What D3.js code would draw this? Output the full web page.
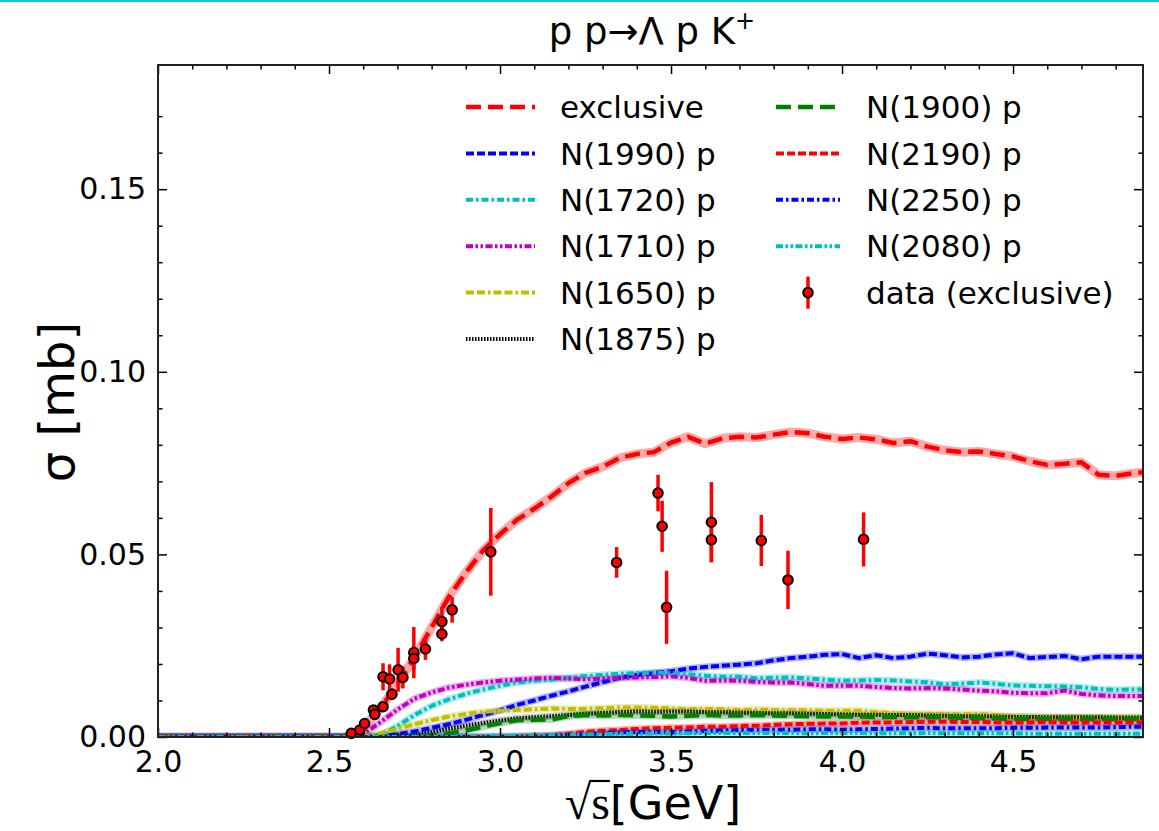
<!DOCTYPE html>
<html>
<head>
<meta charset="utf-8">
<script src="https://cdn.jsdelivr.net/npm/d3@7"></script>
<style>
  html, body { margin: 0; padding: 0; background: #fff; }
  svg { display: block; }
  text { font-family: "DejaVu Sans", sans-serif; fill: #000; }
</style>
</head>
<body>
<script>
// Energy grid (sqrt(s), GeV) shared by all model curves
const sqrtS = [2.00, 2.55, 2.60, 2.65, 2.70, 2.75, 2.80, 2.85, 2.90, 2.95,
  3.00, 3.05, 3.10, 3.15, 3.20, 3.25, 3.30, 3.35, 3.40, 3.45,
  3.50, 3.55, 3.60, 3.65, 3.70, 3.75, 3.80, 3.85, 3.90, 3.95,
  4.00, 4.05, 4.10, 4.15, 4.20, 4.25, 4.30, 4.35, 4.40, 4.45,
  4.50, 4.55, 4.60, 4.65, 4.70, 4.75, 4.80, 4.85, 4.88];

// Cross sections (mb) on the grid above
const exclusive = [0, 0, 0.0025, 0.0078, 0.0145, 0.0218, 0.0300, 0.0383, 0.0450, 0.0510,
  0.0555, 0.0595, 0.0625, 0.0658, 0.0695, 0.0723, 0.0740, 0.0764, 0.0775, 0.0780,
  0.0806, 0.0822, 0.0803, 0.0818, 0.0822, 0.0820, 0.0828, 0.0835, 0.0832, 0.0822,
  0.0816, 0.0820, 0.0815, 0.0805, 0.0810, 0.0795, 0.0785, 0.0780, 0.0782, 0.0775,
  0.0768, 0.0755, 0.0745, 0.0748, 0.0752, 0.0718, 0.0715, 0.0722, 0.0725];
const n1990 = [0, 0, 0, 0.0003, 0.0008, 0.0015, 0.0025, 0.0035, 0.0047, 0.0060,
  0.0073, 0.0088, 0.0100, 0.0113, 0.0125, 0.0138, 0.0150, 0.0162, 0.0170, 0.0175,
  0.0180, 0.0187, 0.0192, 0.0195, 0.0198, 0.0202, 0.0210, 0.0216, 0.0220, 0.0225,
  0.0227, 0.0216, 0.0224, 0.0216, 0.0220, 0.0228, 0.0224, 0.0218, 0.0220, 0.0226,
  0.0229, 0.0216, 0.0219, 0.0222, 0.0213, 0.0220, 0.0220, 0.0220, 0.0220];
const n1720 = [0, 0, 0, 0.0003, 0.0030, 0.0060, 0.0085, 0.0103, 0.0118, 0.0130,
  0.0140, 0.0149, 0.0154, 0.0157, 0.0162, 0.0167, 0.0170, 0.0173, 0.0175, 0.0176,
  0.0176, 0.0172, 0.0168, 0.0165, 0.0165, 0.0161, 0.0162, 0.0163, 0.0160, 0.0157,
  0.0154, 0.0155, 0.0156, 0.0155, 0.0152, 0.0150, 0.0144, 0.0146, 0.0149, 0.0146,
  0.0141, 0.0140, 0.0139, 0.0138, 0.0136, 0.0131, 0.0129, 0.0130, 0.0130];
const n1710 = [0, 0, 0.0008, 0.0040, 0.0075, 0.0105, 0.0122, 0.0135, 0.0143, 0.0149,
  0.0154, 0.0157, 0.0160, 0.0162, 0.0160, 0.0158, 0.0160, 0.0162, 0.0163, 0.0164,
  0.0166, 0.0162, 0.0154, 0.0155, 0.0154, 0.0151, 0.0149, 0.0149, 0.0145, 0.0140,
  0.0140, 0.0140, 0.0137, 0.0134, 0.0133, 0.0134, 0.0133, 0.0130, 0.0127, 0.0125,
  0.0121, 0.0120, 0.0120, 0.0127, 0.0118, 0.0114, 0.0112, 0.0112, 0.0112];
const n1650 = [0, 0, 0.0002, 0.0010, 0.0022, 0.0035, 0.0046, 0.0056, 0.0063, 0.0069,
  0.0072, 0.0074, 0.0076, 0.0078, 0.0077, 0.0077, 0.0079, 0.0081, 0.0081, 0.0080,
  0.0078, 0.0076, 0.0077, 0.0076, 0.0074, 0.0075, 0.0074, 0.0073, 0.0073, 0.0072,
  0.0072, 0.0072, 0.0068, 0.0065, 0.0063, 0.0064, 0.0063, 0.0062, 0.0063, 0.0060,
  0.0056, 0.0055, 0.0055, 0.0054, 0.0055, 0.0054, 0.0054, 0.0054, 0.0054];
const n1875 = [0, 0, 0, 0, 0.0001, 0.0004, 0.0013, 0.0023, 0.0031, 0.0038,
  0.0045, 0.0051, 0.0054, 0.0057, 0.0060, 0.0064, 0.0066, 0.0068, 0.0070, 0.0069,
  0.0070, 0.0070, 0.0068, 0.0068, 0.0067, 0.0066, 0.0065, 0.0065, 0.0064, 0.0063,
  0.0062, 0.0061, 0.0061, 0.0060, 0.0060, 0.0059, 0.0058, 0.0057, 0.0057, 0.0056,
  0.0055, 0.0055, 0.0054, 0.0054, 0.0054, 0.0054, 0.0053, 0.0053, 0.0053];
const n1900 = [0, 0, 0, 0, 0, 0.0001, 0.0004, 0.0010, 0.0018, 0.0028,
  0.0038, 0.0046, 0.0047, 0.0048, 0.0057, 0.0060, 0.0059, 0.0060, 0.0059, 0.0058,
  0.0056, 0.0058, 0.0060, 0.0059, 0.0059, 0.0060, 0.0059, 0.0058, 0.0057, 0.0056,
  0.0056, 0.0056, 0.0055, 0.0055, 0.0054, 0.0054, 0.0054, 0.0053, 0.0052, 0.0051,
  0.0049, 0.0050, 0.0049, 0.0050, 0.0049, 0.0049, 0.0049, 0.0049, 0.0049];
const n2190 = [0, 0, 0, 0, 0, 0, 0, 0, 0, 0,
  0.0001, 0.0002, 0.0003, 0.0005, 0.0009, 0.0014, 0.0017, 0.0019, 0.0022, 0.0024,
  0.0025, 0.0026, 0.0028, 0.0028, 0.0030, 0.0031, 0.0033, 0.0035, 0.0036, 0.0037,
  0.0037, 0.0039, 0.0040, 0.0040, 0.0041, 0.0042, 0.0042, 0.0041, 0.0041, 0.0040,
  0.0040, 0.0040, 0.0041, 0.0040, 0.0040, 0.0040, 0.0040, 0.0040, 0.0040];
const n2250 = [0, 0, 0, 0, 0, 0, 0, 0, 0, 0,
  0, 0, 0, 0.0002, 0.0004, 0.0007, 0.0010, 0.0013, 0.0014, 0.0014,
  0.0013, 0.0015, 0.0017, 0.0018, 0.0019, 0.0019, 0.0020, 0.0020, 0.0021, 0.0021,
  0.0020, 0.0021, 0.0022, 0.0023, 0.0024, 0.0025, 0.0024, 0.0024, 0.0024, 0.0024,
  0.0025, 0.0025, 0.0026, 0.0026, 0.0026, 0.0026, 0.0027, 0.0028, 0.0028];
const n2080 = [0, 0, 0, 0, 0, 0, 0, 0, 0, 0.0001,
  0.0002, 0.0003, 0.0004, 0.0005, 0.0006, 0.0007, 0.0008, 0.0009, 0.0009, 0.0010,
  0.0010, 0.0010, 0.0011, 0.0011, 0.0011, 0.0011, 0.0011, 0.0011, 0.0010, 0.0011,
  0.0011, 0.0011, 0.0010, 0.0010, 0.0010, 0.0011, 0.0010, 0.0010, 0.0010, 0.0010,
  0.0010, 0.0009, 0.0009, 0.0009, 0.0009, 0.0009, 0.0009, 0.0009, 0.0009];

// Measured exclusive cross sections: sqrt(s), sigma, error (mb)
const dataX = [2.565, 2.590, 2.604, 2.630, 2.634, 2.658, 2.684, 2.658, 2.677, 2.702,
  2.716, 2.748, 2.748, 2.782, 2.830, 2.830, 2.860, 2.973, 3.341, 3.462,
  3.474, 3.487, 3.618, 3.618, 3.764, 3.842, 4.063];
const dataY = [0.0010, 0.0019, 0.0037, 0.0074, 0.0062, 0.0083, 0.0117, 0.0165, 0.0159, 0.0184,
  0.0163, 0.0231, 0.0215, 0.0241, 0.0316, 0.0282, 0.0348, 0.0507, 0.0478, 0.0668,
  0.0577, 0.0355, 0.0588, 0.0540, 0.0538, 0.0430, 0.0541];
const dataErr = [0.0003, 0.0004, 0.0005, 0.0008, 0.0008, 0.0010, 0.0015, 0.0037, 0.0040, 0.0060,
  0.0030, 0.0070, 0.0030, 0.0030, 0.0040, 0.0020, 0.0035, 0.0120, 0.0042, 0.0050,
  0.0070, 0.0100, 0.0110, 0.0060, 0.0070, 0.0080, 0.0074];

// Tick labels
const xTickLabels = ["2.0", "2.5", "3.0", "3.5", "4.0", "4.5"];
const yTickLabels = ["0.00", "0.05", "0.10", "0.15"];

// Curves with their legend text
const curves = [
  { label: "exclusive",  values: exclusive },
  { label: "N(1990) p",  values: n1990 },
  { label: "N(1720) p",  values: n1720 },
  { label: "N(1710) p",  values: n1710 },
  { label: "N(1650) p",  values: n1650 },
  { label: "N(1875) p",  values: n1875 },
  { label: "N(1900) p",  values: n1900 },
  { label: "N(2190) p",  values: n2190 },
  { label: "N(2250) p",  values: n2250 },
  { label: "N(2080) p",  values: n2080 }
];

// Line styles per curve
const DASH = "15,7", SHORT = "8,3", DASHDOT = "7,3,2.5,3",
      DASHDOTDOT = "7,2.5,2.5,2.5,2.5,2.5", DDDOT = "8,3,8,3,2.5,3", DOT = "1.5,1.5";
const styles = {
  "exclusive": { color: "#ff0000", dash: DASH, width: 4.5, halo: 9, haloOp: 0.35 },
  "N(1990) p": { color: "#0000ff", dash: SHORT, width: 4, halo: 7, haloOp: 0.3 },
  "N(1720) p": { color: "#00bfbf", dash: DASHDOT, width: 4, halo: 7, haloOp: 0.3 },
  "N(1710) p": { color: "#bf00bf", dash: DASHDOTDOT, width: 4, halo: 7, haloOp: 0.3 },
  "N(1650) p": { color: "#bfbf00", dash: DDDOT, width: 4, halo: 7, haloOp: 0.3 },
  "N(1875) p": { color: "#000000", dash: DOT, width: 4, halo: 7, haloOp: 0.2 },
  "N(1900) p": { color: "#008000", dash: DASH, width: 4.5, halo: 7, haloOp: 0.3 },
  "N(2190) p": { color: "#ff0000", dash: SHORT, width: 4, halo: 7, haloOp: 0.3 },
  "N(2250) p": { color: "#0000ff", dash: DASHDOT, width: 4, halo: 7, haloOp: 0.3 },
  "N(2080) p": { color: "#00bfbf", dash: DASHDOTDOT, width: 4, halo: 7, haloOp: 0.3 }
};

const W = 1159, H = 831;
const pLeft = 158, pRight = 1143, pTop = 65, pBottom = 737;

const svg = d3.select("body").append("svg").attr("width", W).attr("height", H);

// thin accent strip along the top edge
svg.append("rect").attr("x", 0).attr("y", 0).attr("width", W).attr("height", 2).attr("fill", "#12c8de");

const x = d3.scaleLinear().domain([2.0, 4.88]).range([pLeft, pRight]);
const y = d3.scaleLinear().domain([0, 0.184]).range([pBottom, pTop]);

const plot = svg.append("g");
plot.append("clipPath").attr("id", "clip").append("rect")
  .attr("x", pLeft).attr("y", pTop).attr("width", pRight - pLeft).attr("height", pBottom - pTop);
const curvesG = plot.append("g").attr("clip-path", "url(#clip)");

const line = d3.line().x((d, i) => x(sqrtS[i])).y(d => y(d));

// model curves: translucent underlay plus patterned stroke
curves.forEach(c => {
  const s = styles[c.label];
  curvesG.append("path").attr("d", line(c.values)).attr("fill", "none")
    .attr("stroke", s.color).attr("stroke-opacity", s.haloOp).attr("stroke-width", s.halo)
    .attr("stroke-linejoin", "round");
});
curves.forEach(c => {
  const s = styles[c.label];
  curvesG.append("path").attr("d", line(c.values)).attr("fill", "none")
    .attr("stroke", s.color).attr("stroke-width", s.width)
    .attr("stroke-dasharray", s.dash).attr("stroke-linejoin", "round");
});

// data with error bars
const pts = dataX.map((v, i) => ({ x: v, y: dataY[i], e: dataErr[i] }));
const dataG = plot.append("g");
dataG.selectAll("line.err").data(pts).join("line").attr("class", "err")
  .attr("x1", d => x(d.x)).attr("x2", d => x(d.x))
  .attr("y1", d => y(d.y - d.e)).attr("y2", d => y(d.y + d.e))
  .attr("stroke", "#ff0000").attr("stroke-width", 3.5);
dataG.selectAll("circle").data(pts).join("circle")
  .attr("cx", d => x(d.x)).attr("cy", d => y(d.y)).attr("r", 4.8)
  .attr("fill", "#ff0000").attr("stroke", "#000").attr("stroke-width", 2);

// axes: inward ticks on all four sides
const xMajor = xTickLabels.map(Number);
const yMajor = yTickLabels.map(Number);
const xMinor = d3.range(20, 49).map(v => v / 10).filter(v => !xMajor.some(m => Math.abs(m - v) < 1e-9));
const yMinor = d3.range(0, 18).map(v => v / 100).filter(v => !yMajor.some(m => Math.abs(m - v) < 1e-9));

function styleAxis(g) {
  g.select(".domain").remove();
  g.selectAll(".tick line").attr("stroke", "#000").attr("stroke-width", 1.5);
  g.selectAll(".tick text").style("font-size", "30px").style("font-family", "DejaVu Sans");
}

svg.append("g").attr("transform", `translate(0,${pBottom})`)
  .call(d3.axisBottom(x).tickValues(xMajor).tickFormat((d, i) => xTickLabels[i])
    .tickSizeInner(-9).tickSizeOuter(0).tickPadding(14)).call(styleAxis);
svg.append("g").attr("transform", `translate(0,${pBottom})`)
  .call(d3.axisBottom(x).tickValues(xMinor).tickFormat("").tickSizeInner(-4.5).tickSizeOuter(0)).call(styleAxis);
svg.append("g").attr("transform", `translate(0,${pTop})`)
  .call(d3.axisTop(x).tickValues(xMajor).tickFormat("").tickSizeInner(-9).tickSizeOuter(0)).call(styleAxis);
svg.append("g").attr("transform", `translate(0,${pTop})`)
  .call(d3.axisTop(x).tickValues(xMinor).tickFormat("").tickSizeInner(-4.5).tickSizeOuter(0)).call(styleAxis);

svg.append("g").attr("transform", `translate(${pLeft},0)`)
  .call(d3.axisLeft(y).tickValues(yMajor).tickFormat((d, i) => yTickLabels[i])
    .tickSizeInner(-9).tickSizeOuter(0).tickPadding(12)).call(styleAxis);
svg.append("g").attr("transform", `translate(${pLeft},0)`)
  .call(d3.axisLeft(y).tickValues(yMinor).tickFormat("").tickSizeInner(-4.5).tickSizeOuter(0)).call(styleAxis);
svg.append("g").attr("transform", `translate(${pRight},0)`)
  .call(d3.axisRight(y).tickValues(yMajor).tickFormat("").tickSizeInner(-9).tickSizeOuter(0)).call(styleAxis);
svg.append("g").attr("transform", `translate(${pRight},0)`)
  .call(d3.axisRight(y).tickValues(yMinor).tickFormat("").tickSizeInner(-4.5).tickSizeOuter(0)).call(styleAxis);

// frame
svg.append("rect").attr("x", pLeft).attr("y", pTop).attr("width", pRight - pLeft).attr("height", pBottom - pTop)
  .attr("fill", "none").attr("stroke", "#222").attr("stroke-width", 2);

// title
const title = svg.append("text").attr("x", 652).attr("y", 44).attr("text-anchor", "middle")
  .style("font-size", "37px");
title.append("tspan").text("p p\u2192\u039B p K");
title.append("tspan").text("+").style("font-size", "24px").attr("dy", -15);

// y label
svg.append("text").attr("transform", "translate(74,402) rotate(-90)").attr("text-anchor", "middle")
  .style("font-size", "48px").text("\u03C3 [mb]");

// x label: sqrt(s) [GeV]
const xl = svg.append("text").attr("y", 819).attr("x", 0);
xl.append("tspan").text("\u221A").style("font-family", "Liberation Serif").style("font-size", "48px");
xl.append("tspan").text("s").style("font-family", "Liberation Serif").style("font-size", "48px");
xl.append("tspan").text("[GeV]").style("font-size", "46px");
{
  const wTot = xl.node().getComputedTextLength();
  xl.attr("x", 653 - wTot / 2);
  const e0 = xl.node().getExtentOfChar(0);
  const e1 = xl.node().getExtentOfChar(1);
  svg.append("line").attr("x1", e0.x + e0.width - 2).attr("x2", e1.x + e1.width)
    .attr("y1", e0.y + 5).attr("y2", e0.y + 5).attr("stroke", "#000").attr("stroke-width", 2.2);
}

// legend
const legendRows = [
  ["exclusive", 0, 0], ["N(1990) p", 0, 1], ["N(1720) p", 0, 2], ["N(1710) p", 0, 3],
  ["N(1650) p", 0, 4], ["N(1875) p", 0, 5],
  ["N(1900) p", 1, 0], ["N(2190) p", 1, 1], ["N(2250) p", 1, 2], ["N(2080) p", 1, 3]
];
const colLineX = [[466, 535], [776, 840]], colTextX = [560, 866];
const rowY = r => 107 + r * 46.4;
const lg = svg.append("g");
legendRows.forEach(([lab, col, row]) => {
  const s = styles[lab];
  lg.append("line").attr("x1", colLineX[col][0]).attr("x2", colLineX[col][1])
    .attr("y1", rowY(row)).attr("y2", rowY(row))
    .attr("stroke", s.color).attr("stroke-width", s.width).attr("stroke-dasharray", s.dash);
  lg.append("text").attr("x", colTextX[col]).attr("y", rowY(row)).attr("dy", "0.36em")
    .style("font-size", "31px").text(lab);
});
{
  const cx = (colLineX[1][0] + colLineX[1][1]) / 2, cy = rowY(4);
  lg.append("line").attr("x1", cx).attr("x2", cx).attr("y1", cy - 16).attr("y2", cy + 16)
    .attr("stroke", "#ff0000").attr("stroke-width", 3.5);
  lg.append("circle").attr("cx", cx).attr("cy", cy).attr("r", 4.8)
    .attr("fill", "#ff0000").attr("stroke", "#000").attr("stroke-width", 2);
  lg.append("text").attr("x", colTextX[1]).attr("y", cy).attr("dy", "0.36em")
    .style("font-size", "31px").text("data (exclusive)");
}
</script>
</body>
</html>
